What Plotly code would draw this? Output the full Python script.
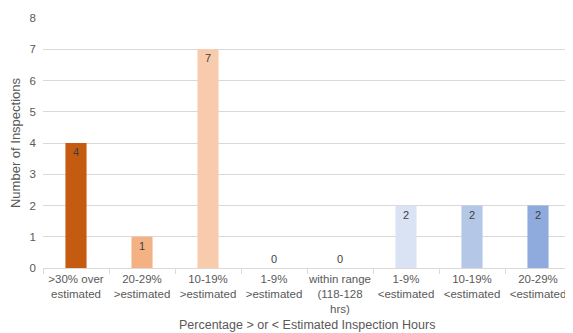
import plotly.graph_objects as go

categories = [">30% over<br>estimated", "20-29%<br>>estimated", "10-19%<br>>estimated",
              "1-9%<br>>estimated", "within range<br>(118-128<br>hrs)", "1-9%<br><estimated",
              "10-19%<br><estimated", "20-29%<br><estimated"]
counts = [4, 1, 7, 0, 0, 2, 2, 2]
colors = ["#C55A11", "#F4B183", "#F8CBAD", "#F8CBAD", "#DDDDDD", "#DAE3F3", "#B4C7E7", "#8FAADC"]
y_ticks = [0, 1, 2, 3, 4, 5, 6, 7, 8]

FONT = "Liberation Sans, Arial, sans-serif"

fig = go.Figure(go.Bar(
    x=categories, y=counts,
    marker=dict(color=colors, line=dict(width=0)),
    width=0.32,
    text=[str(v) for v in counts],
    textposition=["inside" if v > 0 else "outside" for v in counts],
    insidetextanchor="end",
    constraintext="none",
    cliponaxis=False,
    textfont=dict(family=FONT, size=11, color="#404040"),
))

# page body has an 8px margin, so the figure is sized/offset to compensate
fig.update_layout(
    width=565, height=325,
    margin=dict(l=35, r=2, t=10, b=65, autoexpand=False),
    paper_bgcolor="white", plot_bgcolor="white",
    showlegend=False,
    font=dict(family=FONT, size=12, color="#595959"),
    xaxis=dict(
        showgrid=False, showline=True, linecolor="#D9D9D9", linewidth=1,
        ticks="outside", tickson="boundaries", ticklen=5, tickcolor="#D9D9D9",
        tickangle=0, automargin=False,
        tickfont=dict(size=11.5, color="#595959"),
    ),
    yaxis=dict(
        range=[0, 8], tickvals=y_ticks, showgrid=True, gridcolor="#D9D9D9",
        zeroline=False, showline=False, ticks="", automargin=False,
        ticklabelstandoff=6,
        tickfont=dict(size=11.5, color="#595959"),
        title=dict(text="Number of Inspections", font=dict(size=13, color="#595959"), standoff=6),
    ),
    annotations=[dict(
        text="Percentage > or < Estimated Inspection Hours",
        xref="paper", yref="paper", x=0.5, y=-0.228, yanchor="middle", xanchor="center",
        showarrow=False, font=dict(size=12.5, color="#595959"),
    )],
)

fig.write_html("out.html")
